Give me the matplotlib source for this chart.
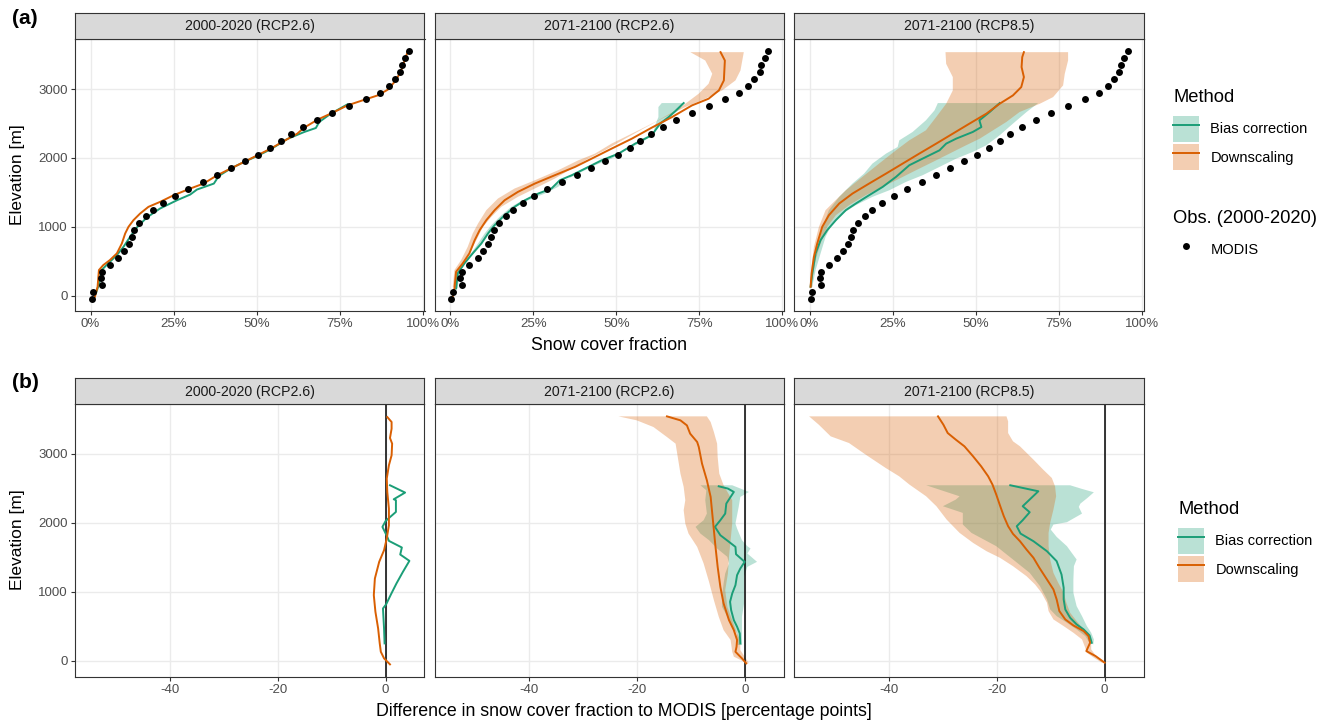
import matplotlib
matplotlib.use("Agg")
import matplotlib.pyplot as plt
from matplotlib.patches import Patch
from matplotlib.lines import Line2D
from matplotlib.ticker import PercentFormatter

plt.rcParams['font.family'] = ['Liberation Sans', 'DejaVu Sans']
plt.rcParams['axes.unicode_minus'] = False

# ==== data ====
periods = ["2000-2020 (RCP2.6)", "2071-2100 (RCP2.6)", "2071-2100 (RCP8.5)"]
methods = ["Bias correction", "Downscaling"]

# MODIS observed snow cover fraction per 100 m band
modis_elev = [-50, 50, 150, 250, 350, 450, 550, 650, 750, 850, 950, 1050, 1150,
              1250, 1350, 1450, 1550, 1650, 1750, 1850, 1950, 2050, 2150, 2250,
              2350, 2450, 2550, 2650, 2750, 2850, 2950, 3050, 3150, 3250, 3350,
              3450, 3550]
modis_frac = [0.003, 0.008, 0.035, 0.030, 0.035, 0.057, 0.083, 0.099, 0.115,
              0.124, 0.132, 0.147, 0.168, 0.188, 0.218, 0.254, 0.293, 0.337,
              0.381, 0.424, 0.466, 0.504, 0.540, 0.573, 0.604, 0.640, 0.680,
              0.727, 0.778, 0.828, 0.870, 0.897, 0.915, 0.932, 0.936, 0.947,
              0.958]

# (a) snow cover fraction, (fraction, elevation)
hist_ds = [(0.013, -14), (0.021, 130), (0.025, 372), (0.038, 444), (0.058, 517),
           (0.079, 614), (0.094, 758), (0.104, 903), (0.114, 1000), (0.129, 1097),
           (0.149, 1193), (0.174, 1290), (0.209, 1362), (0.250, 1459), (0.300, 1556),
           (0.340, 1628), (0.381, 1749), (0.421, 1845), (0.466, 1952), (0.502, 2039),
           (0.542, 2135), (0.582, 2246), (0.622, 2353), (0.643, 2440), (0.683, 2556),
           (0.733, 2667), (0.773, 2763), (0.824, 2845), (0.864, 2908), (0.894, 2990),
           (0.919, 3126), (0.935, 3271), (0.945, 3415), (0.955, 3551)]
hist_bc = [(0.016, 34), (0.026, 179), (0.033, 372), (0.053, 469), (0.079, 589),
           (0.099, 710), (0.119, 855), (0.139, 990), (0.169, 1135), (0.209, 1266),
           (0.260, 1386), (0.300, 1469), (0.320, 1541), (0.371, 1628), (0.386, 1739),
           (0.421, 1845), (0.466, 1952), (0.502, 2029), (0.542, 2126), (0.592, 2275),
           (0.643, 2377), (0.678, 2435), (0.688, 2522), (0.723, 2643), (0.773, 2778)]

rcp26_ds = [(0.008, -14), (0.013, 106), (0.018, 348), (0.038, 469), (0.058, 614),
            (0.074, 807), (0.089, 952), (0.109, 1097), (0.134, 1242), (0.164, 1386),
            (0.204, 1507), (0.255, 1628), (0.315, 1749), (0.376, 1870), (0.426, 1990),
            (0.486, 2135), (0.547, 2280), (0.607, 2440), (0.668, 2594), (0.728, 2763),
            (0.778, 2860), (0.809, 2981), (0.824, 3126), (0.827, 3415), (0.814, 3536)]
rcp26_ds_lo = [(0.008, 130), (0.013, 372), (0.033, 517), (0.053, 710), (0.068, 903),
               (0.084, 1048), (0.109, 1242), (0.144, 1411), (0.194, 1556), (0.255, 1676),
               (0.325, 1821), (0.386, 1966), (0.436, 2063), (0.486, 2208), (0.557, 2377),
               (0.617, 2522), (0.688, 2715), (0.748, 2932), (0.778, 3077), (0.789, 3222),
               (0.768, 3415), (0.723, 3536)]
rcp26_ds_hi = [(0.018, 106), (0.023, 324), (0.038, 469), (0.058, 614), (0.079, 807),
               (0.099, 1000), (0.124, 1145), (0.154, 1290), (0.204, 1435), (0.255, 1556),
               (0.315, 1700), (0.366, 1845), (0.416, 1990), (0.466, 2111), (0.527, 2280),
               (0.587, 2440), (0.637, 2570), (0.708, 2739), (0.768, 2860), (0.819, 2981),
               (0.859, 3126), (0.874, 3271), (0.884, 3536)]
rcp26_bc = [(0.018, 106), (0.023, 324), (0.043, 469), (0.068, 614), (0.094, 758),
            (0.114, 903), (0.134, 1024), (0.159, 1145), (0.194, 1290), (0.225, 1386),
            (0.265, 1483), (0.305, 1556), (0.330, 1676), (0.366, 1749), (0.406, 1845),
            (0.456, 1966), (0.507, 2063), (0.557, 2208), (0.607, 2329), (0.619, 2411),
            (0.632, 2498), (0.658, 2594), (0.678, 2681), (0.703, 2797)]
rcp26_bc_lo = [(0.013, 106), (0.018, 324), (0.038, 469), (0.063, 614), (0.084, 758),
               (0.104, 903), (0.124, 1024), (0.149, 1145), (0.184, 1290), (0.215, 1377),
               (0.255, 1459), (0.285, 1507), (0.315, 1604), (0.345, 1676), (0.386, 1773),
               (0.436, 1894), (0.486, 1990), (0.537, 2135), (0.587, 2256), (0.612, 2353),
               (0.617, 2473), (0.627, 2594), (0.627, 2739), (0.637, 2797)]
rcp26_bc_hi = [(0.023, 106), (0.028, 348), (0.053, 517), (0.079, 662), (0.104, 807),
               (0.124, 952), (0.144, 1073), (0.164, 1169), (0.199, 1290), (0.235, 1386),
               (0.285, 1483), (0.325, 1580), (0.356, 1700), (0.371, 1773), (0.411, 1870),
               (0.461, 1976), (0.512, 2087), (0.562, 2232), (0.607, 2353), (0.627, 2440),
               (0.643, 2522), (0.668, 2618), (0.693, 2715), (0.703, 2797)]

rcp85_ds = [(0.003, 130), (0.006, 324), (0.013, 565), (0.023, 758), (0.038, 1000),
            (0.058, 1169), (0.089, 1338), (0.129, 1483), (0.179, 1628), (0.230, 1773),
            (0.280, 1918), (0.330, 2063), (0.381, 2208), (0.431, 2353), (0.481, 2498),
            (0.532, 2643), (0.572, 2787), (0.612, 2908), (0.637, 3029), (0.645, 3174),
            (0.638, 3319), (0.640, 3464), (0.645, 3536)]
rcp85_ds_lo = [(0.003, 130), (0.006, 420), (0.013, 710), (0.028, 1000), (0.048, 1242),
               (0.068, 1338), (0.109, 1531), (0.159, 1725), (0.209, 1918), (0.260, 2111),
               (0.300, 2256), (0.350, 2401), (0.381, 2594), (0.411, 2787), (0.431, 2981),
               (0.431, 3174), (0.411, 3367), (0.409, 3536)]
rcp85_ds_hi = [(0.008, 130), (0.008, 227), (0.018, 517), (0.033, 758), (0.053, 1000),
               (0.079, 1169), (0.119, 1314), (0.169, 1459), (0.220, 1580), (0.270, 1700),
               (0.320, 1821), (0.371, 1942), (0.421, 2063), (0.471, 2184), (0.512, 2280),
               (0.552, 2401), (0.592, 2522), (0.632, 2667), (0.693, 2787), (0.733, 2884),
               (0.763, 3053), (0.768, 3222), (0.778, 3415), (0.778, 3536)]
rcp85_bc = [(0.003, 130), (0.008, 324), (0.018, 614), (0.033, 807), (0.053, 952),
            (0.079, 1097), (0.109, 1242), (0.139, 1338), (0.179, 1459), (0.220, 1580),
            (0.260, 1725), (0.300, 1894), (0.340, 1990), (0.391, 2111), (0.411, 2208),
            (0.441, 2280), (0.491, 2377), (0.517, 2449), (0.511, 2546), (0.542, 2667),
            (0.572, 2797)]
rcp85_bc_lo = [(0.003, 130), (0.008, 324), (0.018, 565), (0.028, 807), (0.043, 1048),
               (0.058, 1242), (0.089, 1435), (0.129, 1628), (0.164, 1773), (0.189, 1918),
               (0.230, 2063), (0.265, 2159), (0.270, 2256), (0.310, 2377), (0.350, 2546),
               (0.376, 2691), (0.386, 2797)]
rcp85_bc_hi = [(0.008, 130), (0.018, 372), (0.033, 614), (0.048, 855), (0.068, 1048),
               (0.099, 1193), (0.139, 1314), (0.189, 1435), (0.240, 1531), (0.290, 1652),
               (0.340, 1749), (0.391, 1870), (0.441, 1990), (0.491, 2087), (0.532, 2184),
               (0.572, 2329), (0.612, 2498), (0.653, 2667), (0.688, 2797)]

# (b) difference to MODIS [pp], (difference, elevation)
d_hist_ds = [(0.8, -53), (-0.3, 34), (-0.9, 130), (-1.1, 251), (-1.4, 469), (-1.9, 710),
             (-2.2, 952), (-2.0, 1193), (-1.2, 1435), (-0.3, 1604), (0.2, 1773),
             (0.6, 1966), (0.6, 2208), (0.3, 2449), (0.2, 2643), (0.6, 2836), (1.1, 2981),
             (1.2, 3150), (0.8, 3232), (1.1, 3367), (1.1, 3464), (0.3, 3536)]
d_hist_bc = [(-0.2, 251), (-0.3, 469), (-0.5, 758), (0.1, 820), (1.0, 966), (2.0, 1121),
             (3.2, 1290), (4.4, 1449), (2.7, 1541), (3.0, 1643), (0.6, 1739), (0.3, 1797),
             (-0.6, 1942), (0.0, 2029), (1.2, 2111), (1.9, 2159), (1.9, 2329), (1.5, 2343),
             (3.6, 2440), (0.8, 2546)]

d_rcp26_ds = [(0.2, -39), (-0.6, 34), (-1.8, 130), (-1.6, 203), (-1.5, 300), (-2.1, 444),
              (-3.0, 589), (-4.0, 831), (-4.6, 1072), (-5.1, 1362), (-5.5, 1652),
              (-5.8, 1894), (-6.1, 2135), (-6.4, 2377), (-7.1, 2618), (-8.0, 2860),
              (-8.6, 3101), (-8.9, 3174), (-10.2, 3295), (-10.8, 3415), (-12.0, 3488),
              (-14.5, 3546)]
d_rcp26_ds_lo = [(-0.2, -14), (-2.1, 58), (-2.4, 130), (-2.7, 300), (-4.0, 444),
                 (-4.9, 638), (-5.8, 879), (-6.7, 1145), (-7.7, 1411), (-8.9, 1652),
                 (-10.5, 1845), (-11.1, 1990), (-11.4, 2184), (-11.1, 2329), (-11.4, 2522),
                 (-12.0, 2715), (-12.6, 3005), (-12.9, 3150), (-14.5, 3246), (-17.0, 3391),
                 (-20.1, 3488), (-23.5, 3546)]
d_rcp26_ds_hi = [(0.7, -39), (-0.1, 58), (-0.9, 155), (-0.9, 300), (-1.5, 396),
                 (-2.4, 589), (-3.3, 783), (-3.7, 1024), (-3.2, 1266), (-3.0, 1507),
                 (-2.7, 1749), (-2.4, 1990), (-2.4, 2329), (-4.0, 2546), (-4.8, 2715),
                 (-5.1, 2957), (-5.2, 3150), (-5.8, 3319), (-6.4, 3464), (-7.1, 3546)]
d_rcp26_bc = [(-0.9, 251), (-1.0, 396), (-1.5, 493), (-2.1, 589), (-2.6, 734),
              (-2.8, 855), (-2.4, 976), (-1.8, 1097), (-1.5, 1242), (-0.9, 1338),
              (-0.1, 1435), (-1.7, 1546), (-1.8, 1652), (-3.0, 1725), (-4.6, 1821),
              (-5.6, 1942), (-4.6, 2039), (-3.7, 2135), (-3.5, 2280), (-2.7, 2377),
              (-2.1, 2449), (-3.2, 2498), (-4.9, 2531)]
d_rcp26_bc_lo = [(-1.4, 227), (-1.5, 396), (-2.4, 493), (-3.3, 638), (-4.3, 783),
                 (-4.3, 928), (-4.0, 1121), (-3.7, 1266), (-3.0, 1411), (-3.3, 1507),
                 (-5.2, 1628), (-6.7, 1749), (-8.3, 1845), (-9.2, 1942), (-7.7, 2039),
                 (-7.1, 2135), (-7.4, 2329), (-7.2, 2473), (-8.3, 2546)]
d_rcp26_bc_hi = [(-0.6, 227), (-0.6, 444), (-0.6, 638), (-0.2, 831), (-0.2, 1024),
                 (-0.2, 1217), (0.4, 1362), (2.2, 1435), (0.4, 1556), (1.0, 1628),
                 (0.4, 1662), (-0.6, 1749), (-1.5, 1918), (-1.8, 1990), (-1.2, 2232),
                 (-0.9, 2377), (0.7, 2449), (-2.4, 2546)]

d_rcp85_ds = [(0.0, -29), (-1.7, 68), (-3.4, 140), (-2.7, 261), (-3.0, 357), (-3.9, 430),
              (-5.8, 512), (-7.3, 599), (-8.4, 720), (-8.9, 889), (-9.5, 1034),
              (-10.7, 1179), (-12.1, 1348), (-13.2, 1493), (-14.5, 1614), (-15.7, 1734),
              (-17.0, 1841), (-17.9, 1952), (-18.7, 2097), (-19.4, 2251), (-20.1, 2411),
              (-20.8, 2556), (-21.6, 2676), (-22.9, 2821), (-24.4, 2966), (-26.0, 3111),
              (-27.6, 3208), (-29.1, 3304), (-29.9, 3425), (-30.9, 3546)]
d_rcp85_ds_lo = [(-0.5, -29), (-2.0, 43), (-3.3, 116), (-3.6, 188), (-4.2, 309),
                 (-5.8, 406), (-7.6, 502), (-9.5, 599), (-10.4, 720), (-10.7, 841),
                 (-11.7, 986), (-12.9, 1106), (-14.5, 1227), (-17.0, 1372), (-19.4, 1493),
                 (-21.9, 1589), (-24.4, 1710), (-26.9, 1855), (-29.3, 2048), (-31.2, 2242),
                 (-33.1, 2386), (-36.2, 2556), (-38.1, 2676), (-40.6, 2797), (-44.3, 2990),
                 (-47.4, 3159), (-50.8, 3256), (-53.0, 3425), (-54.8, 3546)]
d_rcp85_ds_hi = [(0.3, -29), (-1.6, 68), (-2.5, 164), (-2.5, 261), (-2.8, 382),
                 (-3.9, 454), (-5.2, 575), (-6.4, 696), (-7.1, 841), (-7.6, 986),
                 (-8.6, 1130), (-9.5, 1275), (-10.1, 1469), (-10.4, 1662), (-10.4, 1855),
                 (-10.1, 2000), (-9.5, 2193), (-9.0, 2386), (-9.2, 2531), (-9.8, 2652),
                 (-11.4, 2773), (-13.2, 2918), (-15.7, 3111), (-17.0, 3184), (-17.9, 3304),
                 (-17.9, 3473), (-18.2, 3546)]
d_rcp85_bc = [(-2.4, 261), (-2.8, 367), (-3.9, 454), (-5.2, 527), (-6.4, 623),
              (-7.3, 744), (-7.6, 889), (-7.6, 1058), (-8.0, 1251), (-8.9, 1444),
              (-10.7, 1589), (-13.2, 1734), (-15.6, 1845), (-16.3, 1952), (-15.2, 2039),
              (-13.9, 2155), (-15.2, 2242), (-12.3, 2459), (-17.5, 2546)]
d_rcp85_bc_lo = [(-2.8, 261), (-3.6, 357), (-5.2, 454), (-7.0, 551), (-8.9, 647),
                 (-10.1, 744), (-10.7, 889), (-12.0, 1082), (-13.9, 1275), (-17.0, 1469),
                 (-20.1, 1662), (-24.7, 1855), (-26.3, 1976), (-26.3, 2145), (-30.0, 2242),
                 (-27.6, 2338), (-26.9, 2386), (-33.1, 2546)]
d_rcp85_bc_hi = [(-2.1, 237), (-2.0, 309), (-2.5, 406), (-3.3, 502), (-4.2, 647),
                 (-5.2, 792), (-5.8, 986), (-5.8, 1179), (-5.7, 1372), (-5.2, 1469),
                 (-6.1, 1565), (-7.0, 1662), (-8.9, 1797), (-10.0, 1903), (-9.5, 1976),
                 (-7.0, 2010), (-4.2, 2135), (-4.8, 2232), (-4.5, 2280), (-3.2, 2362),
                 (-2.0, 2444), (-4.2, 2493), (-6.4, 2546)]

# ==== style ====
BC_COL = "#1B9E77"
DS_COL = "#D95F02"
GRID = "#EBEBEB"
BORDER = "#333333"
W, H = 1328, 725


def draw_ribbon(ax, lo, hi, color):
    lo = sorted(lo, key=lambda p: p[1])
    hi = sorted(hi, key=lambda p: p[1], reverse=True)
    xs = [p[0] for p in lo] + [p[0] for p in hi]
    zs = [p[1] for p in lo] + [p[1] for p in hi]
    ax.fill(xs, zs, color=color, alpha=0.3, lw=0, zorder=2)


def draw_line(ax, pts, color):
    ax.plot([p[0] for p in pts], [p[1] for p in pts], color=color, lw=1.4, zorder=3)


def style_panel(ax, title, first):
    ax.set_facecolor("white")
    ax.grid(True, color=GRID, lw=1.0, zorder=0)
    ax.set_axisbelow(True)
    for s in ax.spines.values():
        s.set_color(BORDER)
        s.set_linewidth(0.8)
    ax.set_yticks([0, 1000, 2000, 3000])
    ax.tick_params(axis="both", length=3, width=0.8, color=BORDER,
                   labelsize=9.5, labelcolor="#4D4D4D", pad=2)
    if not first:
        ax.tick_params(axis="y", left=False, labelleft=False)
    # facet strip
    pos = ax.get_position()
    sax = fig.add_axes([pos.x0, pos.y1, pos.width, 26.5 / H])
    sax.set_facecolor("#D9D9D9")
    sax.set_xticks([])
    sax.set_yticks([])
    for s in sax.spines.values():
        s.set_color(BORDER)
        s.set_linewidth(0.8)
    sax.text(0.5, 0.48, title, ha="center", va="center", fontsize=10.2, color="#1A1A1A")


fig = plt.figure(figsize=(W / 100, H / 100), dpi=100)

lefts = [75, 434.5, 794]
pw = 349.5
top_axes = []
bot_axes = []
for i in range(3):
    a = fig.add_axes([lefts[i] / W, 1 - 311 / H, pw / W, 272 / H])
    b = fig.add_axes([lefts[i] / W, 1 - 676.7 / H, pw / W, 272.4 / H])
    top_axes.append(a)
    bot_axes.append(b)

# ---- (a) snow cover fraction ----
top_data = [
    (hist_bc, None, None, hist_ds, None, None),
    (rcp26_bc, rcp26_bc_lo, rcp26_bc_hi, rcp26_ds, rcp26_ds_lo, rcp26_ds_hi),
    (rcp85_bc, rcp85_bc_lo, rcp85_bc_hi, rcp85_ds, rcp85_ds_lo, rcp85_ds_hi),
]
for i, ax in enumerate(top_axes):
    bc, bc_lo, bc_hi, ds, ds_lo, ds_hi = top_data[i]
    if bc_lo is not None:
        draw_ribbon(ax, bc_lo, bc_hi, BC_COL)
        draw_ribbon(ax, ds_lo, ds_hi, DS_COL)
    draw_line(ax, bc, BC_COL)
    draw_line(ax, ds, DS_COL)
    ax.plot(modis_frac, modis_elev, "o", color="black", ms=5, mec="none", zorder=4)
    ax.set_xlim(-0.047, 1.005)
    ax.set_ylim(-222, 3727)
    ax.set_xticks([0, 0.25, 0.5, 0.75, 1.0])
    ax.xaxis.set_major_formatter(PercentFormatter(xmax=1, decimals=0))
    style_panel(ax, periods[i], i == 0)

# ---- (b) difference to MODIS ----
bot_data = [
    (d_hist_bc, None, None, d_hist_ds, None, None),
    (d_rcp26_bc, d_rcp26_bc_lo, d_rcp26_bc_hi, d_rcp26_ds, d_rcp26_ds_lo, d_rcp26_ds_hi),
    (d_rcp85_bc, d_rcp85_bc_lo, d_rcp85_bc_hi, d_rcp85_ds, d_rcp85_ds_lo, d_rcp85_ds_hi),
]
for i, ax in enumerate(bot_axes):
    bc, bc_lo, bc_hi, ds, ds_lo, ds_hi = bot_data[i]
    if bc_lo is not None:
        draw_ribbon(ax, bc_lo, bc_hi, BC_COL)
        draw_ribbon(ax, ds_lo, ds_hi, DS_COL)
    ax.axvline(0, color="black", lw=1.1, zorder=2.5)
    draw_line(ax, bc, BC_COL)
    draw_line(ax, ds, DS_COL)
    ax.set_xlim(-57.6, 7.2)
    ax.set_ylim(-232, 3721)
    ax.set_xticks([-40, -20, 0])
    style_panel(ax, periods[i], i == 0)

# ---- axis titles and panel tags ----
fig.text(18 / W, 1 - 175 / H, "Elevation [m]", rotation=90, ha="center", va="center", fontsize=12.5)
fig.text(18 / W, 1 - 540 / H, "Elevation [m]", rotation=90, ha="center", va="center", fontsize=12.5)
fig.text(609 / W, 1 - 346 / H, "Snow cover fraction", ha="center", va="center", fontsize=12.8)
fig.text(624 / W, 1 - 711 / H, "Difference in snow cover fraction to MODIS [percentage points]",
         ha="center", va="center", fontsize=12.8)
fig.text(12 / W, 1 - 18 / H, "(a)", ha="left", va="center", fontsize=15, fontweight="bold")
fig.text(12 / W, 1 - 383 / H, "(b)", ha="left", va="center", fontsize=15, fontweight="bold")

# ---- legends ----
method_handles = [
    (Patch(facecolor=BC_COL, alpha=0.3, lw=0), Line2D([], [], color=BC_COL, lw=1.4)),
    (Patch(facecolor=DS_COL, alpha=0.3, lw=0), Line2D([], [], color=DS_COL, lw=1.4)),
]
leg_kw = dict(frameon=False, fontsize=10.5, title_fontsize=13.2, handlelength=1.75,
              handleheight=2.35, labelspacing=0.18, handletextpad=0.8, borderpad=0,
              alignment="left", loc="upper left")
legs = []
legs.append(fig.legend(method_handles, methods, title="Method",
                       bbox_to_anchor=(1166 / W, 1 - 82 / H), **leg_kw))
legs.append(fig.legend([Line2D([], [], ls="none", marker="o", color="black", ms=5, mec="none")],
                       ["MODIS"], title="Obs. (2000-2020)",
                       bbox_to_anchor=(1166 / W, 1 - 203 / H), **leg_kw))
legs.append(fig.legend(method_handles, methods, title="Method",
                       bbox_to_anchor=(1171 / W, 1 - 494 / H), **leg_kw))
for lg in legs:
    lg._legend_box.sep = 7  # gap between legend title and keys

fig.savefig("out.png", dpi=100)
